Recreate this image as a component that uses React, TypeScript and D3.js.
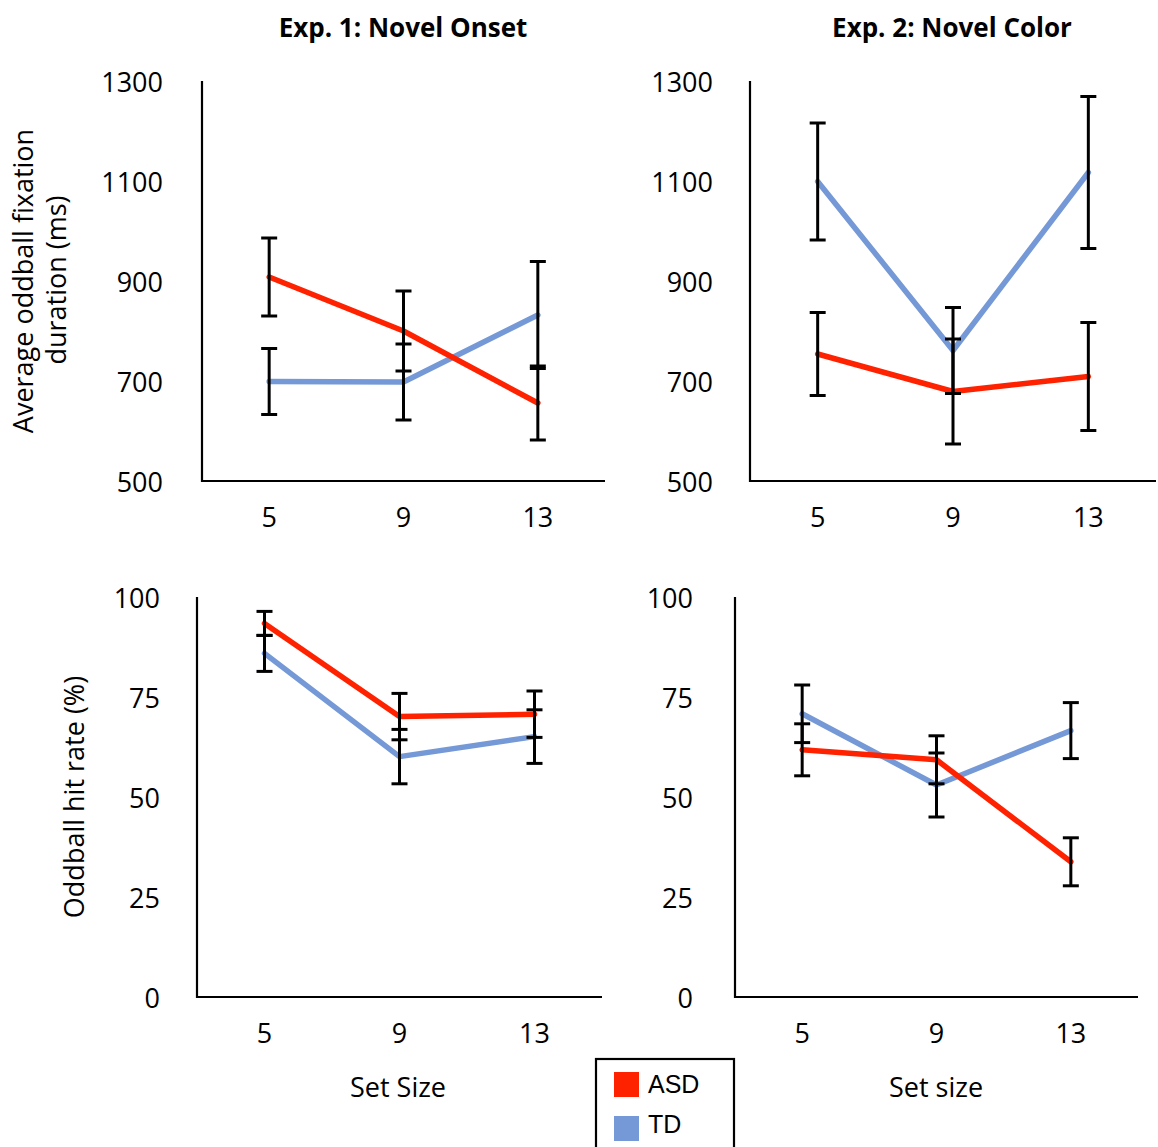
import React from 'react'
import * as d3 from 'd3'

// set sizes (x categories)
const setSizes = ['5', '9', '13']

// Exp 1 / Exp 2 fixation duration (ms)
const fixTicks = [500, 700, 900, 1100, 1300]
const fixOnsetASD = [908, 800, 656]
const fixOnsetASDErr = [78, 80, 74]
const fixOnsetTD = [699, 698, 832]
const fixOnsetTDErr = [66, 76, 107]
const fixColorASD = [754, 679, 709]
const fixColorASDErr = [83, 105, 108]
const fixColorTD = [1099, 761, 1117]
const fixColorTDErr = [117, 86, 152]

// oddball hit rate (%)
const hitTicks = [0, 25, 50, 75, 100]
const hitOnsetASD = [93.4, 70.1, 70.7]
const hitOnsetASDErr = [3, 5.8, 5.8]
const hitOnsetTD = [85.9, 60.1, 65.1]
const hitOnsetTDErr = [4.5, 6.8, 6.7]
const hitColorASD = [61.8, 59.3, 33.8]
const hitColorASDErr = [6.5, 6, 6]
const hitColorTD = [70.8, 53, 66.6]
const hitColorTDErr = [7.2, 8, 7]

const groups = ['ASD', 'TD']
const RED = '#ff2200'
const BLUE = '#7599d6'
const FONT = '"Open Sans", sans-serif'
const FS = 27

type PanelProps = {
  left: number
  right: number
  top: number
  bottom: number
  domain: [number, number]
  ticks: number[]
  asd: number[]
  asdErr: number[]
  td: number[]
  tdErr: number[]
  labelGap: number
}

function Panel({ left, right, top, bottom, domain, ticks, asd, asdErr, td, tdErr, labelGap }: PanelProps) {
  const x = d3.scaleBand().domain(setSizes).range([left, right])
  const y = d3.scaleLinear().domain(domain).range([bottom, top])
  const cx = (s: string) => (x(s) as number) + x.bandwidth() / 2
  const line = d3.line<number>().x((_, i) => cx(setSizes[i])).y(d => y(d))

  const series = [
    { vals: td, err: tdErr, color: BLUE },
    { vals: asd, err: asdErr, color: RED },
  ]

  return (
    <g>
      {/* axes */}
      <path d={`M${left},${top}V${bottom}H${right}`} fill="none" stroke="#000" strokeWidth={2.2} />
      {ticks.map(t => (
        <text key={t} x={left - labelGap} y={y(t) + 1} dy="0.36em" textAnchor="end"
          fontFamily={FONT} fontSize={FS} fill="#000">{t}</text>
      ))}
      {setSizes.map(s => (
        <text key={s} x={cx(s)} y={bottom + 46} textAnchor="middle"
          fontFamily={FONT} fontSize={FS} fill="#000">{s}</text>
      ))}
      {/* lines */}
      {series.map((sr, k) => (
        <path key={k} d={line(sr.vals) as string} fill="none" stroke={sr.color}
          strokeWidth={5.5} strokeLinejoin="round" strokeLinecap="round" />
      ))}
      {/* error bars */}
      {series.map((sr, k) => (
        <g key={k}>
          {sr.vals.map((v, i) => {
            const px = cx(setSizes[i])
            const hi = y(v + sr.err[i])
            const lo = y(v - sr.err[i])
            return (
              <g key={i} stroke="#000" strokeWidth={3}>
                <line x1={px} x2={px} y1={hi} y2={lo} />
                <line x1={px - 8} x2={px + 8} y1={hi} y2={hi} />
                <line x1={px - 8} x2={px + 8} y1={lo} y2={lo} />
              </g>
            )
          })}
        </g>
      ))}
    </g>
  )
}

export default function App() {
  return (
    <div style={{ position: 'absolute', left: 0, top: 0 }}>
      <svg width={1158} height={1147} style={{ display: 'block', background: '#fff' }}>
        <text x={403} y={37} textAnchor="middle" fontFamily={FONT} fontWeight="bold" fontSize={26}>Exp. 1: Novel Onset</text>
        <text x={952} y={37} textAnchor="middle" fontFamily={FONT} fontWeight="bold" fontSize={26}>Exp. 2: Novel Color</text>

        <text transform="translate(33,281) rotate(-90)" textAnchor="middle" fontFamily={FONT} fontSize={FS}>Average oddball fixation</text>
        <text transform="translate(66,280) rotate(-90)" textAnchor="middle" fontFamily={FONT} fontSize={FS}>duration (ms)</text>
        <text transform="translate(84,797) rotate(-90)" textAnchor="middle" fontFamily={FONT} fontSize={FS}>Oddball hit rate (%)</text>

        <Panel left={202} right={605} top={81} bottom={481} domain={[500, 1300]} ticks={fixTicks}
          asd={fixOnsetASD} asdErr={fixOnsetASDErr} td={fixOnsetTD} tdErr={fixOnsetTDErr} labelGap={39} />
        <Panel left={750} right={1156} top={81} bottom={481} domain={[500, 1300]} ticks={fixTicks}
          asd={fixColorASD} asdErr={fixColorASDErr} td={fixColorTD} tdErr={fixColorTDErr} labelGap={37} />
        <Panel left={197} right={602} top={597} bottom={997} domain={[0, 100]} ticks={hitTicks}
          asd={hitOnsetASD} asdErr={hitOnsetASDErr} td={hitOnsetTD} tdErr={hitOnsetTDErr} labelGap={37} />
        <Panel left={735} right={1138} top={597} bottom={997} domain={[0, 100]} ticks={hitTicks}
          asd={hitColorASD} asdErr={hitColorASDErr} td={hitColorTD} tdErr={hitColorTDErr} labelGap={42} />

        <text x={398} y={1097} textAnchor="middle" fontFamily={FONT} fontSize={FS}>Set Size</text>
        <text x={936} y={1097} textAnchor="middle" fontFamily={FONT} fontSize={FS}>Set size</text>

        {/* legend */}
        <rect x={596} y={1059} width={138} height={100} fill="#fff" stroke="#000" strokeWidth={2.2} />
        {groups.map((g, i) => (
          <g key={g}>
            <rect x={614} y={1072 + i * 44} width={25} height={25} fill={i === 0 ? RED : BLUE} />
            <text x={648} y={1093 + i * 40} fontFamily='"Liberation Sans", Arial, sans-serif' fontSize={25}>{g}</text>
          </g>
        ))}
      </svg>
    </div>
  )
}
